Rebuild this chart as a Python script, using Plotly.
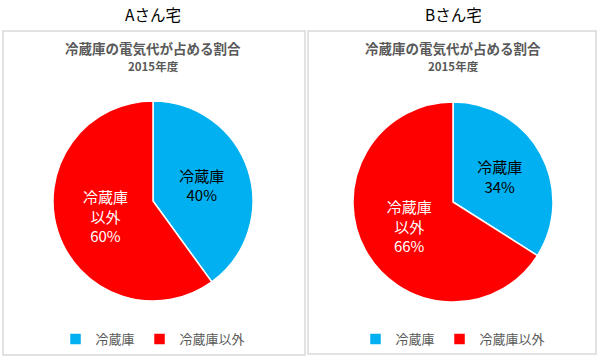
import plotly.graph_objects as go

W, H = 599, 360
FONT = "Noto Sans CJK JP"

panel_titles = ["Aさん宅", "Bさん宅"]
chart_title = "冷蔵庫の電気代が占める割合"
chart_subtitle = "2015年度"
labels = ["冷蔵庫", "冷蔵庫以外"]
slice_text = ["冷蔵庫", "冷蔵庫<br>以外"]
values_a = [40, 60]
values_b = [34, 66]
colors = ["#00B0F0", "#FF0000"]
text_colors = ["#000000", "#FFFFFF"]

# panel geometry in px
centers = [(153, 201), (453, 202)]
radius = 100
boxes = [(3, 31, 305, 355), (308, 31, 596, 354)]
legend_names = ["legend", "legend2"]
groups = ["a", "b"]

fig = go.Figure()
for i, vals in enumerate([values_a, values_b]):
    cx, cy = centers[i]
    fig.add_trace(go.Pie(
        labels=labels,
        values=vals,
        text=slice_text,
        texttemplate="%{text}<br>%{percent:.0%}",
        textposition="inside",
        insidetextorientation="horizontal",
        insidetextfont=dict(family=FONT, size=15, color=text_colors),
        marker=dict(colors=colors, line=dict(color="white", width=1.5)),
        sort=False,
        direction="clockwise",
        rotation=0,
        hole=0,
        domain=dict(x=[(cx - radius) / W, (cx + radius) / W],
                    y=[(H - cy - radius) / H, (H - cy + radius) / H]),
        legend=legend_names[i],
        legendgroup=groups[i],
        showlegend=True,
    ))

shapes = []
for (x0, y0, x1, y1) in boxes:
    shapes.append(dict(type="rect", xref="paper", yref="paper",
                       x0=x0 / W, x1=x1 / W, y0=1 - y0 / H, y1=1 - y1 / H,
                       line=dict(color="#D9D9D9", width=1.5), fillcolor="rgba(0,0,0,0)",
                       layer="below"))

annotations = []
for i, t in enumerate(panel_titles):
    cx = centers[i][0]
    annotations.append(dict(text=t, x=cx / W, y=1 - 14 / H, xref="paper", yref="paper",
                            showarrow=False, xanchor="center", yanchor="middle",
                            font=dict(family=FONT, size=15.5, color="#000000")))
    annotations.append(dict(text="<b>" + chart_title + "</b>", x=cx / W, y=1 - 48 / H,
                            xref="paper", yref="paper", showarrow=False,
                            xanchor="center", yanchor="middle",
                            font=dict(family=FONT, size=13.5, color="#595959")))
    annotations.append(dict(text="<b>" + chart_subtitle + "</b>", x=cx / W, y=1 - 66 / H,
                            xref="paper", yref="paper", showarrow=False,
                            xanchor="center", yanchor="middle",
                            font=dict(family=FONT, size=11.5, color="#595959")))

legend_common = dict(orientation="h", xanchor="center", yanchor="middle",
                     y=1 - 339 / H, bgcolor="rgba(0,0,0,0)", traceorder="normal",
                     font=dict(family=FONT, size=13, color="#595959"),
                     itemclick=False, itemdoubleclick=False, itemwidth=30)

fig.update_layout(
    width=W, height=H,
    margin=dict(l=0, r=0, t=0, b=0),
    paper_bgcolor="white", plot_bgcolor="white",
    shapes=shapes,
    annotations=annotations,
    legend=dict(x=centers[0][0] / W, **legend_common),
    legend2=dict(x=centers[1][0] / W, **legend_common),
    font=dict(family=FONT),
)

fig.write_html("out.html", config={"displayModeBar": False},
               post_script="document.body.style.margin='0px';")
